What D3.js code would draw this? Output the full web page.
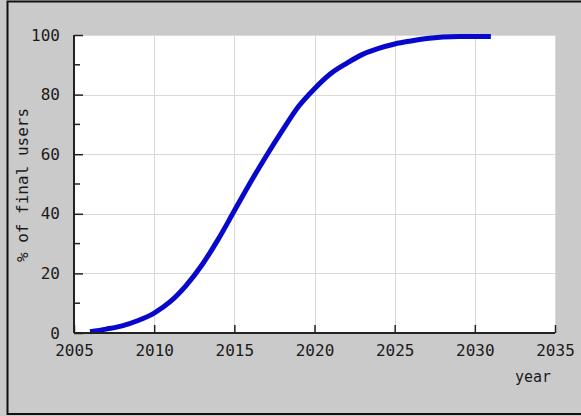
<!DOCTYPE html>
<html>
<head>
<meta charset="utf-8">
<script src="https://cdn.jsdelivr.net/npm/d3@7"></script>
<style>
  html, body { margin: 0; padding: 0; background: #cacaca; }
  svg { display: block; }
  text { font-family: "DejaVu Sans Mono", monospace; fill: #1a1a1a; }
</style>
</head>
<body>
<script>
// Data
const years = [2006, 2007, 2008, 2009, 2010, 2011, 2012, 2013, 2014, 2015, 2016, 2017, 2018,
               2019, 2020, 2021, 2022, 2023, 2024, 2025, 2026, 2027, 2028, 2029, 2030, 2031];
const percentUsers = [0.4, 1.3, 2.4, 4.2, 6.7, 10.5, 16, 23, 31.5, 41, 50.5, 59.5, 68,
                      76, 82, 87, 90.5, 93.5, 95.5, 97, 98, 98.8, 99.3, 99.5, 99.5, 99.5];
const xTicks = [2005, 2010, 2015, 2020, 2025, 2030, 2035];
const yTicks = [0, 20, 40, 60, 80, 100];
const yMinorTicks = [10, 30, 50, 70, 90];
const xLabel = "year";
const yLabel = "% of final users";

const W = 581, H = 416;
const plot = { left: 74, right: 555, top: 35, bottom: 333 };

const svg = d3.select("body").append("svg").attr("width", W).attr("height", H);

// Background and frame
svg.append("rect").attr("x", 0).attr("y", 0).attr("width", W).attr("height", H).attr("fill", "#cacaca");
svg.append("rect").attr("x", 7.5).attr("y", 1.5).attr("width", 620).attr("height", 412.5)
  .attr("fill", "none").attr("stroke", "#111").attr("stroke-width", 2);

const x = d3.scaleLinear().domain([2005, 2035]).range([plot.left, plot.right]);
const y = d3.scaleLinear().domain([0, 100]).range([plot.bottom, plot.top]);

// Plot area
svg.append("rect").attr("x", plot.left).attr("y", plot.top)
  .attr("width", plot.right - plot.left).attr("height", plot.bottom - plot.top)
  .attr("fill", "#ffffff");

// Gridlines
const grid = svg.append("g").attr("stroke", "#d9d9d9").attr("stroke-width", 1);
grid.selectAll("line.gx").data(xTicks.slice(1)).join("line")
  .attr("x1", d => Math.round(x(d)) + 0.5).attr("x2", d => Math.round(x(d)) + 0.5)
  .attr("y1", plot.top).attr("y2", plot.bottom);
grid.selectAll("line.gy").data(yTicks.slice(1)).join("line")
  .attr("x1", plot.left).attr("x2", plot.right)
  .attr("y1", d => Math.round(y(d)) + 0.5).attr("y2", d => Math.round(y(d)) + 0.5);

// Curve
const line = d3.line().x((d, i) => x(years[i])).y(d => y(d)).curve(d3.curveMonotoneX);
svg.append("path").datum(percentUsers)
  .attr("d", line).attr("fill", "none")
  .attr("stroke", "#0808cc").attr("stroke-width", 5).attr("stroke-linecap", "butt");

// Axes
const xAxis = d3.axisBottom(x).tickValues(xTicks).tickFormat(d3.format("d"))
  .tickSize(-8).tickPadding(12);
const gx = svg.append("g").attr("transform", `translate(0,${plot.bottom})`).call(xAxis);
gx.select(".domain").attr("stroke", "#222").attr("stroke-width", 2).attr("d", `M${plot.left},0H${plot.right}`);
gx.selectAll(".tick line").attr("stroke", "#222").attr("stroke-width", 1.5);
gx.selectAll(".tick text").attr("font-size", 16).attr("font-family", "DejaVu Sans Mono").attr("fill", "#1a1a1a");

const yAxis = d3.axisLeft(y).tickValues(yTicks).tickFormat(d3.format("d"))
  .tickSize(-9).tickPadding(14);
const gy = svg.append("g").attr("transform", `translate(${plot.left},0)`).call(yAxis);
gy.select(".domain").attr("stroke", "#222").attr("stroke-width", 2).attr("d", `M0,${plot.top}V${plot.bottom}`);
gy.selectAll(".tick line").attr("stroke", "#222").attr("stroke-width", 1.5);
gy.selectAll(".tick text").attr("font-size", 16).attr("font-family", "DejaVu Sans Mono").attr("fill", "#1a1a1a");

// Minor y ticks
svg.append("g").selectAll("line").data(yMinorTicks).join("line")
  .attr("x1", plot.left).attr("x2", plot.left + 6)
  .attr("y1", d => y(d)).attr("y2", d => y(d))
  .attr("stroke", "#222").attr("stroke-width", 1.5);

// Axis labels
svg.append("text").attr("x", 533).attr("y", 382).attr("text-anchor", "middle")
  .attr("font-size", 15).text(xLabel);
svg.append("text").attr("transform", "translate(28,185) rotate(-90)")
  .attr("text-anchor", "middle").attr("font-size", 16).text(yLabel);
</script>
</body>
</html>
